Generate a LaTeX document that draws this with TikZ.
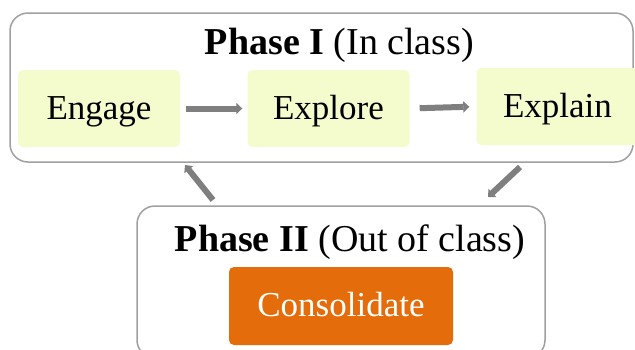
\documentclass[tikz,border=0pt]{standalone}
\usepackage{fontspec}
\setmainfont{Liberation Serif}
\usetikzlibrary{arrows.meta}
\definecolor{boxfill}{HTML}{F4FCCE}
\definecolor{orangefill}{HTML}{E46C0A}
\definecolor{framegray}{HTML}{A0A0A0}
\definecolor{arrowgray}{HTML}{7F7F7F}
\begin{document}
\begin{tikzpicture}[x=1pt,y=-1pt,
  phasebox/.style={draw=framegray, line width=1.5pt, rounded corners=18pt, inner sep=0pt},
  stepbox/.style={fill=boxfill, rounded corners=5pt, minimum width=162pt, minimum height=77pt,
     inner sep=0pt, font=\fontsize{35}{40}\selectfont, text height=24pt, text depth=3pt},
  orangebox/.style={fill=orangefill, rounded corners=5pt, minimum width=224pt, minimum height=78pt,
     inner sep=0pt, text=white, font=\fontsize{35}{40}\selectfont, text height=24pt, text depth=3pt},
  titletext/.style={anchor=base, inner sep=0pt, font=\fontsize{38}{43}\selectfont},
  bigarrow/.style={draw=arrowgray, line width=6pt, -{Triangle[length=6pt,width=11pt]}}
]
\useasboundingbox (0,0) rectangle (635,349);
\fill[white] (0,0) rectangle (635,349);
% Phase boxes
\node[phasebox, minimum width=623pt, minimum height=149pt] (p1) at (321.5,87.5) {};
\node[phasebox, minimum width=408pt, minimum height=152pt] (p2) at (341,282) {};
% titles
\node[titletext] (t1) at (339.5,54) {\textbf{Phase I} (In class)};
\node[titletext] (t2) at (350,251) {\textbf{Phase II} (Out of class)};
% step boxes
\node[stepbox] (engage) at (99,108.5) {Engage};
\node[stepbox] (explore) at (328.5,108.5) {Explore};
\node[stepbox] (explain) at (557.5,106.5) {Explain};
\node[orangebox] (consolidate) at (341,306) {Consolidate};
% arrows
\draw[bigarrow, shorten <=6pt, shorten >=5pt] (engage.east) -- (explore.west);
\draw[bigarrow, shorten <=10pt, shorten >=7pt] (explore.east) -- (explain.west);
\coordinate (l1) at (213,200);
\coordinate (l2) at (185,165);
\coordinate (r1) at (520,167);
\coordinate (r2) at (488,197);
\draw[bigarrow] (l1) -- (l2);
\draw[bigarrow] (r1) -- (r2);
\end{tikzpicture}
\end{document}
